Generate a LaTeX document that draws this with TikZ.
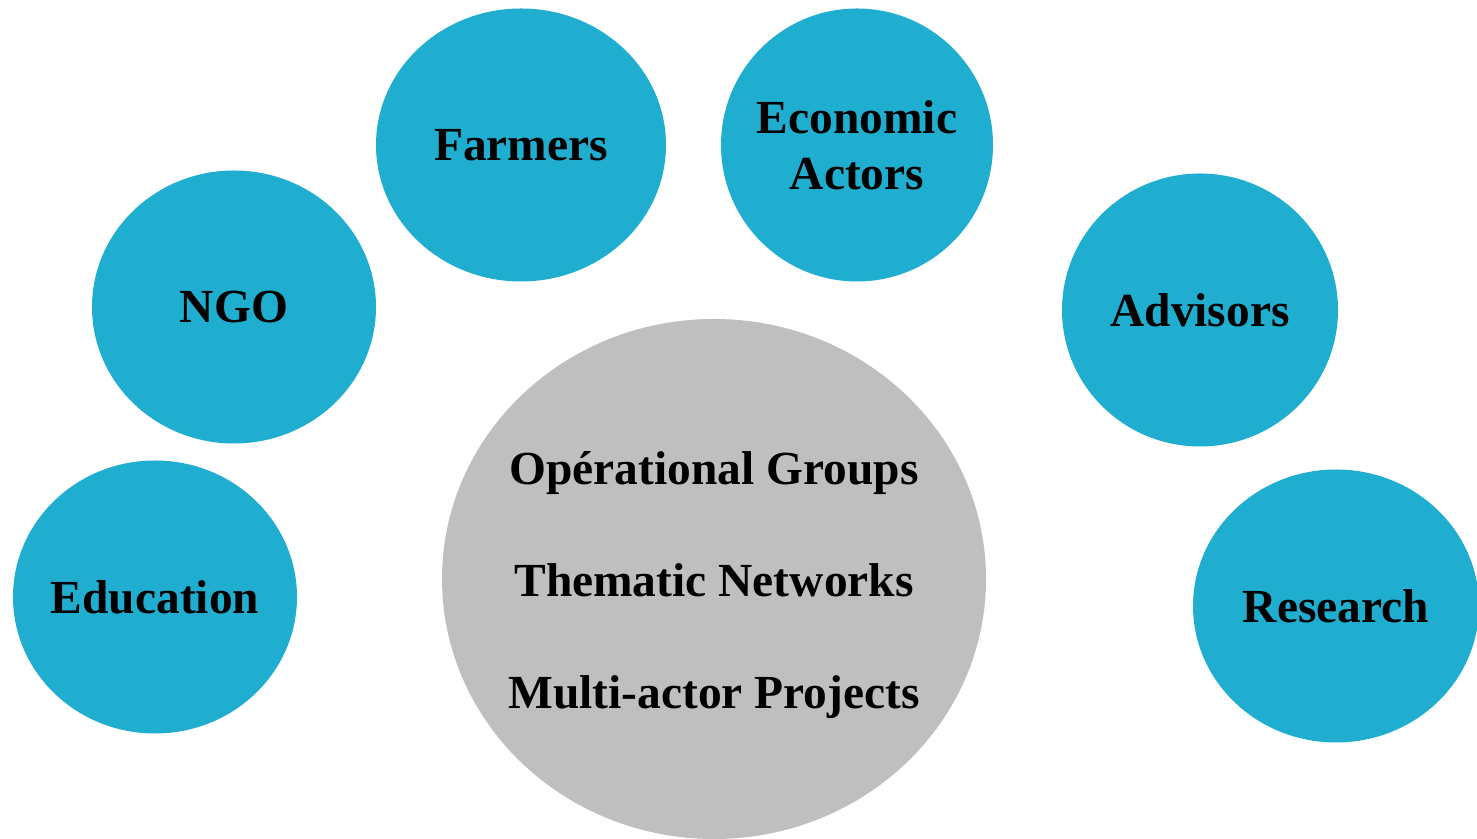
\documentclass[tikz,border=0pt]{standalone}
\usepackage{fontspec}
\setmainfont{Liberation Serif}
\usetikzlibrary{shapes.geometric}
\definecolor{actorblue}{HTML}{1FAECF}
\definecolor{hubgray}{HTML}{BFBFBF}
\tikzset{
	actor/.style={ellipse, fill=actorblue, draw=none, inner sep=0pt, minimum width=#1, minimum height=5.46cm},
	hub/.style={ellipse, fill=hubgray, draw=none, inner sep=0pt, minimum width=10.88cm, minimum height=10.4cm},
	word/.style={font=\fontsize{27}{32}\selectfont\bfseries, align=center}
}

\begin{document}
\begin{tikzpicture}
		%%%%% START %%%%%
		\useasboundingbox (0, 0) rectangle (29.54, 16.78);
		
		\node[hub] (hub) at (14.28, 5.2) {};
		\node[word, font=\fontsize{27}{63.5}\selectfont\bfseries, yshift=-0.12cm] (hubtext) at (hub.center) {Opérational Groups\\Thematic Networks\\Multi-actor Projects};
		
		\node[actor=5.8cm] (farmers) at (10.42, 13.88) {};
		\node[word] (farmerstext) at (farmers.center) {Farmers};
		
		\node[actor=5.44cm] (economic) at (17.14, 13.88) {};
		\node[word] (economictext) at (economic.center) {Economic\\Actors};
		
		\node[actor=5.68cm] (ngo) at (4.68, 10.64) {};
		\node[word] (ngotext) at (ngo.center) {NGO};
		
		\node[actor=5.52cm] (advisors) at (24.0, 10.58) {};
		\node[word] (advisorstext) at (advisors.center) {Advisors};
		
		\node[actor=5.68cm] (education) at (3.1, 4.84) {};
		\node[word] (educationtext) at (education.center) {Education};
		
		\node[actor=5.72cm] (research) at (26.72, 4.66) {};
		\node[word] (researchtext) at (research.center) {Research};
		
		%%%%% END %%%%%
	\end{tikzpicture}
\end{document}
